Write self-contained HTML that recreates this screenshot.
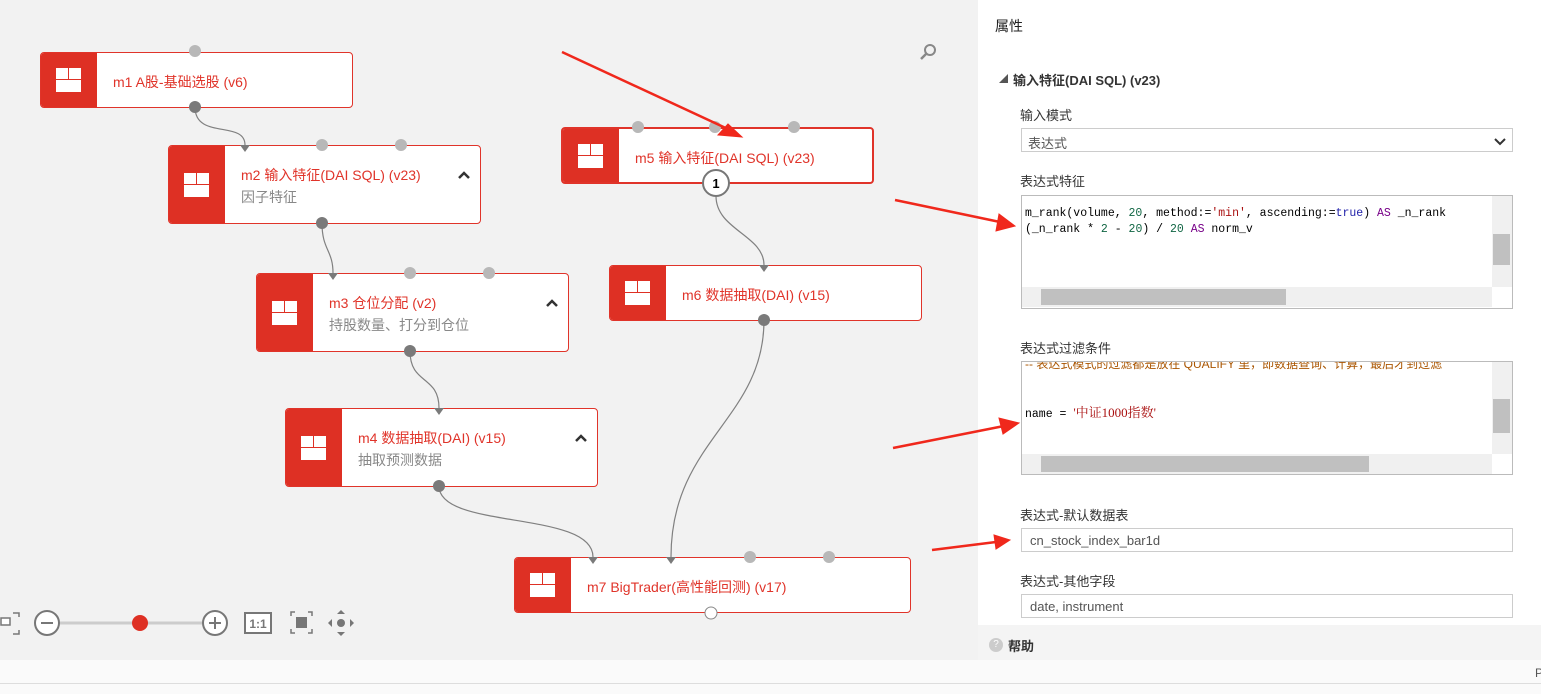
<!DOCTYPE html>
<html><head><meta charset="utf-8"><style>
*{margin:0;padding:0;box-sizing:border-box}
body{width:1541px;height:694px;position:relative;overflow:hidden;background:#fff;font-family:"Liberation Sans","Noto Sans CJK SC",sans-serif}
.canvas{position:absolute;left:0;top:0;width:978px;height:660px;background:#f2f2f2}
.node{position:absolute;background:#fff;border:1px solid #e0342a;border-radius:4px;overflow:hidden}
.node .ic{position:absolute;left:0;top:0;bottom:0;width:56px;background:#de3024}
.node .ic i{position:absolute;left:15px;width:25px;height:24px;top:50%;margin-top:-12px;background:#fff;border:0}
.node .ic i:before{content:"";position:absolute;left:0;right:0;top:11px;height:1px;background:#de3024}
.node .ic i:after{content:"";position:absolute;left:12px;top:0;height:11px;width:1px;background:#de3024}
.node .t{position:absolute;left:72px;font-size:14px;color:#e0342a;white-space:nowrap}
.node .s{position:absolute;left:72px;font-size:14px;color:#888;white-space:nowrap}
.chev{position:absolute;width:12px;height:12px}
.panel{position:absolute;left:978px;top:0;width:563px;height:660px;background:#fff}
.lbl{position:absolute;left:1020px;font-size:13px;color:#333}
.box{position:absolute;left:1021px;width:492px;border:1px solid #ccc;background:#fff;font-size:13px;color:#555}
.code{position:absolute;left:1025px;font-family:"Liberation Mono",monospace;font-size:11.5px;line-height:16px;color:#000;white-space:pre}
</style></head><body>
<div class="canvas"></div>

<svg width="1541" height="694" style="position:absolute;left:0;top:0">
<g fill="none" stroke="#808080" stroke-width="1.2">
<path d="M195 107 C195 140,245 120,245 145"/>
<path d="M322 223 C322 250,333 250,333 273"/>
<path d="M410 351 C410 385,439 375,439 408"/>
<path d="M439 486 C439 530,593 510,593 557"/>
<path d="M716 196 C716 230,764 235,764 265"/>
<path d="M764 320 C764 420,671 440,671 557"/>
</g>
</svg>

<div class="node" style="left:40px;top:52px;width:313px;height:56px"><div class="ic"><i></i></div><div class="t" style="top:19px">m1 A股-基础选股 (v6)</div></div>
<div class="node" style="left:168px;top:145px;width:313px;height:79px"><div class="ic"><i></i></div><div class="t" style="top:19px">m2 输入特征(DAI SQL) (v23)</div><div class="s" style="top:41px">因子特征</div><svg class="chev" style="left:289px;top:23px"><path d="M1 9L6 4L11 9" fill="none" stroke="#333" stroke-width="2.5"/></svg></div>
<div class="node" style="left:256px;top:273px;width:313px;height:79px"><div class="ic"><i></i></div><div class="t" style="top:19px">m3 仓位分配 (v2)</div><div class="s" style="top:41px">持股数量、打分到仓位</div><svg class="chev" style="left:289px;top:23px"><path d="M1 9L6 4L11 9" fill="none" stroke="#333" stroke-width="2.5"/></svg></div>
<div class="node" style="left:285px;top:408px;width:313px;height:79px"><div class="ic"><i></i></div><div class="t" style="top:19px">m4 数据抽取(DAI) (v15)</div><div class="s" style="top:41px">抽取预测数据</div><svg class="chev" style="left:289px;top:23px"><path d="M1 9L6 4L11 9" fill="none" stroke="#333" stroke-width="2.5"/></svg></div>
<div class="node" style="left:561px;top:127px;width:313px;height:57px;border-width:2px"><div class="ic"><i></i></div><div class="t" style="top:19px">m5 输入特征(DAI SQL) (v23)</div></div>
<div class="node" style="left:609px;top:265px;width:313px;height:56px"><div class="ic"><i></i></div><div class="t" style="top:19px">m6 数据抽取(DAI) (v15)</div></div>
<div class="node" style="left:514px;top:557px;width:397px;height:56px"><div class="ic"><i></i></div><div class="t" style="top:19px">m7 BigTrader(高性能回测) (v17)</div></div>

<svg width="1541" height="694" style="position:absolute;left:0;top:0">
<g fill="#b8b8b8">
<circle cx="195" cy="51" r="6"/>
<circle cx="322" cy="145" r="6"/><circle cx="401" cy="145" r="6"/>
<circle cx="410" cy="273" r="6"/><circle cx="489" cy="273" r="6"/>
<circle cx="638" cy="127" r="6"/><circle cx="715" cy="127" r="6"/><circle cx="794" cy="127" r="6"/>
<circle cx="750" cy="557" r="6"/><circle cx="829" cy="557" r="6"/>
</g>
<g fill="#7a7a7a">
<circle cx="195" cy="107" r="6"/><circle cx="322" cy="223" r="6"/><circle cx="410" cy="351" r="6"/>
<circle cx="439" cy="486" r="6"/><circle cx="764" cy="320" r="6"/>
<path d="M240 145h10l-5 7z"/><path d="M328 273h10l-5 7z"/><path d="M434 408h10l-5 7z"/>
<path d="M759 265h10l-5 7z"/><path d="M588 557h10l-5 7z"/><path d="M666 557h10l-5 7z"/>
</g>
<circle cx="716" cy="183" r="13" fill="#fff" stroke="#777" stroke-width="2"/>
<text x="716" y="188" font-size="13" font-weight="bold" text-anchor="middle" font-family="Liberation Sans">1</text>
<circle cx="711" cy="613" r="6" fill="#fff" stroke="#888"/>
<circle cx="930" cy="50" r="5" fill="none" stroke="#888" stroke-width="2"/><path d="M926 54l-5 5" stroke="#888" stroke-width="2.5"/>
<g stroke="#777" stroke-width="2" fill="#fff">
<rect x="1" y="618" width="9" height="7" stroke-width="1.5"/>
<circle cx="47" cy="623" r="12"/><circle cx="215" cy="623" r="12"/>
</g>
<path d="M13 613h6v4M13 634h6v-4" fill="none" stroke="#777" stroke-width="1.5"/>
<line x1="60" y1="623" x2="202" y2="623" stroke="#ccc" stroke-width="3"/>
<path d="M41 623h12M209 623h12M215 617v12" stroke="#777" stroke-width="2"/>
<circle cx="140" cy="623" r="8" fill="#de3024"/>
<rect x="245" y="613" width="26" height="20" fill="#fff" stroke="#777" stroke-width="2"/>
<text x="258" y="628" font-size="12" font-weight="bold" text-anchor="middle" fill="#777" font-family="Liberation Sans">1:1</text>
<rect x="296" y="617" width="11" height="11" fill="#777"/>
<path d="M291 616v-4h4M308 612h4v4M291 629v4h4M308 633h4v-4" fill="none" stroke="#777" stroke-width="1.5"/>
<circle cx="341" cy="623" r="4" fill="#777"/>
<path d="M337 614l4-4 4 4zM337 632l4 4 4-4zM332 619l-4 4 4 4zM350 619l4 4-4 4z" fill="#777"/>
</svg>

<div class="panel"></div>
<div style="position:absolute;left:995px;top:16px;font-size:14px;color:#222">属性</div>
<div style="position:absolute;left:999px;top:72px;font-size:9px;color:#555">◢</div>
<div style="position:absolute;left:1013px;top:70px;font-size:13px;font-weight:bold;color:#333">输入特征(DAI SQL) (v23)</div>
<div class="lbl" style="top:105px">输入模式</div>
<div class="box" style="top:128px;height:24px;padding:4px 6px">表达式<svg style="position:absolute;right:6px;top:7px" width="12" height="10"><path d="M1 3L6 8L11 3" fill="none" stroke="#333" stroke-width="2"/></svg></div>
<div class="lbl" style="top:171px">表达式特征</div>
<div class="box" style="top:195px;height:114px;border-color:#bbb"></div>
<div style="position:absolute;left:1492px;top:196px;width:20px;height:91px;background:#f0f0f0"></div>
<div style="position:absolute;left:1493px;top:234px;width:17px;height:31px;background:#c0c0c0"></div>
<div style="position:absolute;left:1022px;top:287px;width:470px;height:20px;background:#f0f0f0"></div>
<div style="position:absolute;left:1041px;top:289px;width:245px;height:16px;background:#c0c0c0"></div>
<div class="code" style="top:206px">m_rank(volume, <span style="color:#164">20</span>, method:=<span style="color:#a11">'min'</span>, ascending:=<span style="color:#22a">true</span>) <span style="color:#708">AS</span> _n_rank
(_n_rank * <span style="color:#164">2</span> - <span style="color:#164">20</span>) / <span style="color:#164">20</span> <span style="color:#708">AS</span> norm_v</div>
<div class="lbl" style="top:338px">表达式过滤条件</div>
<div class="box" style="top:361px;height:114px;border-color:#bbb;overflow:hidden"><div style="position:absolute;left:3px;top:-7px;font-size:12px;color:#a50;white-space:nowrap">-- 表达式模式的过滤都是放在 QUALIFY 里，即数据查询、计算，最后才到过滤</div></div>
<div style="position:absolute;left:1492px;top:362px;width:20px;height:92px;background:#f0f0f0"></div>
<div style="position:absolute;left:1493px;top:399px;width:17px;height:34px;background:#c0c0c0"></div>
<div style="position:absolute;left:1022px;top:454px;width:470px;height:20px;background:#f0f0f0"></div>
<div style="position:absolute;left:1041px;top:456px;width:328px;height:16px;background:#c0c0c0"></div>
<div class="code" style="top:405px">name = <span style="color:#a11;font-family:'Liberation Serif','Noto Serif CJK SC',serif;font-size:13px">'中证1000指数'</span></div>
<div class="lbl" style="top:505px">表达式-默认数据表</div>
<div class="box" style="top:528px;height:24px;padding:4px 8px">cn_stock_index_bar1d</div>
<div class="lbl" style="top:571px">表达式-其他字段</div>
<div class="box" style="top:594px;height:24px;padding:4px 8px">date, instrument</div>
<div style="position:absolute;left:978px;top:625px;width:563px;height:35px;background:#f4f4f4"></div>
<div style="position:absolute;left:989px;top:638px;width:14px;height:14px;border-radius:50%;background:#ccc;color:#fff;font-size:10px;text-align:center;line-height:14px">?</div>
<div style="position:absolute;left:1008px;top:636px;font-size:13px;font-weight:bold;color:#333">帮助</div>
<div style="position:absolute;left:0;top:660px;width:1541px;height:34px;background:#fafafa"></div>
<div style="position:absolute;left:0;top:683px;width:1541px;height:1px;background:#ddd"></div>
<div style="position:absolute;left:1535px;top:666px;font-size:12px;color:#555">P</div>

<svg width="1541" height="694" style="position:absolute;left:0;top:0">
<g fill="#f0281c" stroke="#f0281c">
<path d="M562 52L730 130" stroke-width="2.5" fill="none"/><path d="M742 137L718 135L728 124z"/>
<path d="M895 200L1000 222" stroke-width="2.5" fill="none"/><path d="M1015 226L996 231L999 214z"/>
<path d="M893 448L1004 426" stroke-width="2.5" fill="none"/><path d="M1019 423L1003 434L999 418z"/>
<path d="M932 550L996 542" stroke-width="2.5" fill="none"/><path d="M1010 540L996 549L994 535z"/>
</g>
</svg>
</body></html>
